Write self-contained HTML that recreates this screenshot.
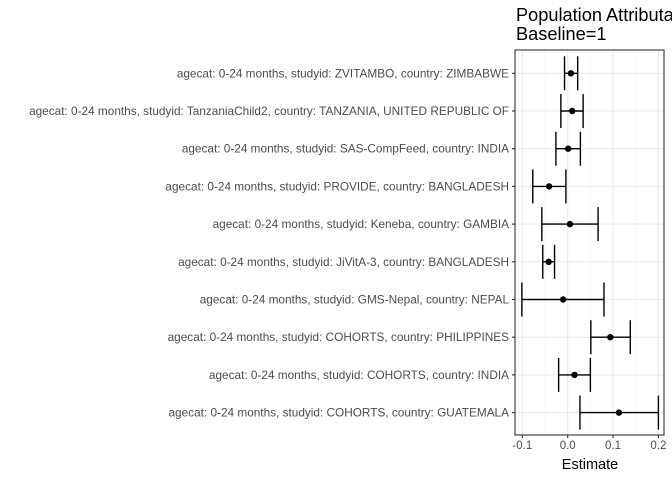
<!DOCTYPE html>
<html><head><meta charset="utf-8"><style>
body{margin:0;background:#fff;width:672px;height:480px;overflow:hidden;font-family:"Liberation Sans",sans-serif}
</style></head><body>
<svg id="c" width="672" height="480" style="display:block">
<text x="516" y="21" font-size="18.2" fill="#000">Population Attributable</text>
<text x="516" y="40" font-size="18.2" fill="#000">Baseline=1</text>
<text x="590" y="469" font-size="14.5" text-anchor="middle" fill="#000">Estimate</text>
</svg>
<script>
const labels=["agecat: 0-24 months, studyid: ZVITAMBO, country: ZIMBABWE","agecat: 0-24 months, studyid: TanzaniaChild2, country: TANZANIA, UNITED REPUBLIC OF","agecat: 0-24 months, studyid: SAS-CompFeed, country: INDIA","agecat: 0-24 months, studyid: PROVIDE, country: BANGLADESH","agecat: 0-24 months, studyid: Keneba, country: GAMBIA","agecat: 0-24 months, studyid: JiVitA-3, country: BANGLADESH","agecat: 0-24 months, studyid: GMS-Nepal, country: NEPAL","agecat: 0-24 months, studyid: COHORTS, country: PHILIPPINES","agecat: 0-24 months, studyid: COHORTS, country: INDIA","agecat: 0-24 months, studyid: COHORTS, country: GUATEMALA"];
const est=[0.007,0.010,0.001,-0.041,0.005,-0.042,-0.010,0.094,0.015,0.113];
const lower=[-0.007,-0.015,-0.026,-0.077,-0.057,-0.055,-0.101,0.051,-0.020,0.027];
const upper=[0.022,0.034,0.028,-0.004,0.067,-0.029,0.080,0.138,0.050,0.200];
const ticks=[-0.1,0,0.1,0.2];
const tickLabels=["-0.1","0.0","0.1","0.2"];
const minor=[-0.05,0.05,0.15];
const svg=document.getElementById('c');const NS="http://www.w3.org/2000/svg";
const L=515,R=664,T=50,B=435;
const x=v=>567.7+v*453.5;
const y=i=>73.3+i*37.7;
function mk(t,a){const e=document.createElementNS(NS,t);for(const k in a)e.setAttribute(k,a[k]);svg.appendChild(e);return e;}
mk('rect',{x:L,y:T,width:R-L,height:B-T,fill:'#fff'});
minor.forEach(v=>{const e=mk('line',{x1:x(v),x2:x(v),y1:T,y2:B,stroke:'#f2f2f2','stroke-width':0.6});

});
ticks.forEach((v,i)=>{const g=mk('line',{x1:x(v),x2:x(v),y1:T,y2:B,stroke:'#ebebeb','stroke-width':1.1});


mk('line',{x1:x(v),x2:x(v),y1:B,y2:B+3,stroke:'#333','stroke-width':1.1});
const t=mk('text',{x:x(v),y:B+14,'font-size':11.5,'text-anchor':'middle',fill:'#4d4d4d'});t.textContent=tickLabels[i];

});
labels.forEach((s,i)=>{const g=mk('line',{x1:L,x2:R,y1:y(i),y2:y(i),stroke:'#ebebeb','stroke-width':1.1});


mk('line',{x1:L-3,x2:L,y1:y(i),y2:y(i),stroke:'#333','stroke-width':1.1});
const t=mk('text',{x:L-6,y:y(i)+4,'font-size':11.8,'text-anchor':'end',fill:'#4d4d4d'});t.textContent=s;

});
labels.forEach((s,i)=>{const yy=y(i);
const h=mk('line',{x1:x(lower[i]),x2:x(upper[i]),y1:yy,y2:yy,stroke:'#000','stroke-width':1.4});


[lower[i],upper[i]].forEach(v=>mk('line',{x1:x(v),x2:x(v),y1:yy-17,y2:yy+17,stroke:'#000','stroke-width':1.4}));
const p=mk('circle',{cx:x(est[i]),cy:yy,r:3.2,fill:'#000'});

});
const fr=mk('rect',{x:L,y:T,width:R-L,height:B-T,fill:'none',stroke:'#333','stroke-width':1.1});


</script>
</body></html>
